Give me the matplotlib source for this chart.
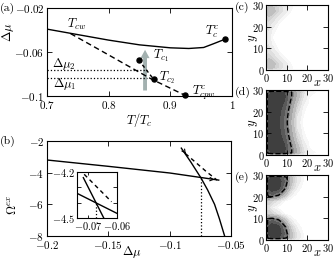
import numpy as np
import matplotlib
matplotlib.use('Agg')
from matplotlib import pyplot as plt

plt.rcParams['font.family'] = 'serif'
plt.rcParams['font.serif'] = ['cmr10']
plt.rcParams['mathtext.fontset'] = 'cm'
plt.rcParams['axes.formatter.use_mathtext'] = True

# ---- panel (a): phase diagram ----
Tcw_T = [0.7, 0.75, 0.8, 0.85, 0.9, 0.93, 0.954, 0.97, 0.989]
Tcw_mu = [-0.0392, -0.0442, -0.0492, -0.0535, -0.0562, -0.0568, -0.0559, -0.0525, -0.0483]
Tcpw_T = [0.738, 0.8, 0.83, 0.87, 0.89, 0.924]
Tcpw_mu = [-0.0432, -0.0627, -0.0722, -0.0848, -0.0902, -0.0994]
Tc1 = (0.8485, -0.0672)
Tc2 = (0.8729, -0.0848)
Tcc = (0.989, -0.0483)
Tcpwc = (0.924, -0.0994)
dmu2 = -0.0760
dmu1 = -0.0833
arrow_T = 0.859
arrow_mu = (-0.095, -0.058)

# ---- panel (b): grand potential ----
shallow_x = [-0.2, -0.15, -0.1, -0.075, -0.06]
shallow_y = [-3.2, -3.6, -4.02, -4.3, -4.47]
steep_x = [-0.0905, -0.083, -0.0745, -0.069, -0.0634, -0.0595, -0.0552, -0.054]
steep_y = [-2.45, -3.3, -4.33, -5.1, -6.0, -6.9, -8.0, -8.4]
dash_x = [-0.0872, -0.0706, -0.0614]
dash_y = [-2.79, -3.9, -4.47]
cross_b = (-0.0745, -4.33)
arrow_marks = [((-0.0885, -2.62), (-0.0855, -2.95)), ((-0.067, -4.41), (-0.0635, -4.44))]

# inset
ins_shallow_x = [-0.0738, -0.06]
ins_shallow_y = [-4.339, -4.469]
ins_steep_x = [-0.0716, -0.0645]
ins_steep_y = [-4.237, -4.50]
ins_dash_x = [-0.0713, -0.0618]
ins_dash_y = [-4.215, -4.394]
cross_ins = (-0.0672, -4.40)

# ---- panels (c)-(e): density maps ----
gx = [0, 1, 3, 6, 9, 12, 15, 18, 21, 30]
gy = [0, 1, 3, 6, 9, 12, 15, 18, 21, 24, 27, 29, 30]
dens_c = [
    [0, 0, 0, 0, 0, 0, 0, 0, 0, 0],
    [0, 0.22, 0.22, 0.15, 0.08, 0.03, 0, 0, 0, 0],
    [0, 0.28, 0.26, 0.15, 0.07, 0.02, 0, 0, 0, 0],
    [0, 0.18, 0.14, 0.07, 0.02, 0, 0, 0, 0, 0],
    [0, 0.13, 0.08, 0.02, 0, 0, 0, 0, 0, 0],
    [0, 0.10, 0.04, 0, 0, 0, 0, 0, 0, 0],
    [0, 0.08, 0.02, 0, 0, 0, 0, 0, 0, 0],
    [0, 0.10, 0.04, 0, 0, 0, 0, 0, 0, 0],
    [0, 0.13, 0.08, 0.02, 0, 0, 0, 0, 0, 0],
    [0, 0.18, 0.14, 0.07, 0.02, 0, 0, 0, 0, 0],
    [0, 0.28, 0.26, 0.15, 0.07, 0.02, 0, 0, 0, 0],
    [0, 0.22, 0.22, 0.15, 0.08, 0.03, 0, 0, 0, 0],
    [0, 0, 0, 0, 0, 0, 0, 0, 0, 0],
]
dens_d = [
    [0, 0, 0, 0, 0, 0, 0, 0, 0, 0],
    [0, 0.60, 0.72, 0.74, 0.70, 0.48, 0.28, 0.12, 0.03, 0],
    [0, 0.70, 0.80, 0.80, 0.72, 0.48, 0.27, 0.10, 0.02, 0],
    [0, 0.70, 0.80, 0.78, 0.68, 0.42, 0.20, 0.06, 0.01, 0],
    [0, 0.70, 0.80, 0.76, 0.62, 0.36, 0.14, 0.03, 0, 0],
    [0, 0.70, 0.78, 0.74, 0.58, 0.32, 0.10, 0.02, 0, 0],
    [0, 0.70, 0.78, 0.72, 0.56, 0.30, 0.08, 0.01, 0, 0],
    [0, 0.70, 0.78, 0.74, 0.58, 0.32, 0.10, 0.02, 0, 0],
    [0, 0.70, 0.80, 0.76, 0.62, 0.36, 0.14, 0.03, 0, 0],
    [0, 0.70, 0.80, 0.78, 0.68, 0.42, 0.20, 0.06, 0.01, 0],
    [0, 0.70, 0.80, 0.80, 0.72, 0.48, 0.27, 0.10, 0.02, 0],
    [0, 0.60, 0.72, 0.74, 0.70, 0.48, 0.28, 0.12, 0.03, 0],
    [0, 0, 0, 0, 0, 0, 0, 0, 0, 0],
]
dens_e = [
    [0, 0, 0, 0, 0, 0, 0, 0, 0, 0],
    [0, 0.60, 0.72, 0.72, 0.55, 0.25, 0.08, 0.02, 0, 0],
    [0, 0.70, 0.80, 0.78, 0.60, 0.25, 0.08, 0.02, 0, 0],
    [0, 0.70, 0.80, 0.75, 0.50, 0.18, 0.05, 0, 0, 0],
    [0, 0.55, 0.60, 0.50, 0.25, 0.06, 0.01, 0, 0, 0],
    [0, 0.20, 0.15, 0.08, 0.02, 0, 0, 0, 0, 0],
    [0, 0.12, 0.05, 0.01, 0, 0, 0, 0, 0, 0],
    [0, 0.20, 0.15, 0.08, 0.02, 0, 0, 0, 0, 0],
    [0, 0.55, 0.60, 0.50, 0.25, 0.06, 0.01, 0, 0, 0],
    [0, 0.70, 0.80, 0.75, 0.50, 0.18, 0.05, 0, 0, 0],
    [0, 0.70, 0.80, 0.78, 0.60, 0.25, 0.08, 0.02, 0, 0],
    [0, 0.60, 0.72, 0.72, 0.55, 0.25, 0.08, 0.02, 0, 0],
    [0, 0, 0, 0, 0, 0, 0, 0, 0, 0],
]
map_ticks = [0, 10, 20, 30]

W, H = 335, 259
fig = plt.figure(figsize=(W/100, H/100), dpi=100)
TFS = 8     # tick labels
LFS = 9     # axis labels / annotations


def px_axes(l, t, r, b):
    return fig.add_axes([l/W, 1-b/H, (r-l)/W, (b-t)/H])


def style(ax, xt, yt, fs=TFS):
    ax.set_xticks(xt)
    ax.set_yticks(yt)
    ax.set_xticklabels([f'${v:g}$' for v in xt], fontsize=fs)
    ax.set_yticklabels([f'${v:g}$' for v in yt], fontsize=fs)
    ax.tick_params(direction='in', top=True, right=True, length=3.5, width=0.6, pad=2)
    for s in ax.spines.values():
        s.set_linewidth(0.8)


#%% (a)
axa = px_axes(47, 8, 232, 96)
axa.plot(Tcw_T, Tcw_mu, 'k-', lw=1.0)
axa.plot(Tcpw_T, Tcpw_mu, 'k--', lw=1.0, dashes=(4, 2.5))
axa.plot([Tc1[0], Tc2[0]], [Tc1[1], Tc2[1]], 'k--', lw=1.0, dashes=(2.5, 2))
axa.hlines([dmu2, dmu1], 0.7, 0.862, colors='k', linestyles=':', lw=0.9)
axa.annotate('', xy=(arrow_T, arrow_mu[1]), xytext=(arrow_T, arrow_mu[0]),
             arrowprops=dict(width=2.8, headwidth=6.5, headlength=6, color='#a3b1b0', lw=0),
             zorder=1)
for p in [Tc1, Tc2, Tcc, Tcpwc]:
    axa.plot(p[0], p[1], 'ko', ms=3.6, clip_on=False, zorder=5)
axa.text(0.7486, -0.0352, r'$T_{cw}$', fontsize=LFS, ha='center', va='center')
axa.text(0.968, -0.0420, r'$T_c^c$', fontsize=LFS, ha='center', va='center')
axa.text(0.884, -0.0630, r'$T_{c_1}$', fontsize=LFS, ha='center', va='center')
axa.text(0.895, -0.0830, r'$T_{c_2}$', fontsize=LFS, ha='center', va='center')
axa.text(0.954, -0.0970, r'$T_{cpw}^c$', fontsize=LFS, ha='center', va='center')
axa.text(0.728, -0.0712, r'$\Delta\mu_2$', fontsize=LFS, ha='center', va='center')
axa.text(0.728, -0.0890, r'$\Delta\mu_1$', fontsize=LFS, ha='center', va='center')
axa.set_xlim(0.7, 1.0)
axa.set_ylim(-0.1, -0.02)
style(axa, [0.7, 0.8, 0.9, 1], [-0.1, -0.06, -0.02])
axa.set_xlabel(r'$T/T_c$', fontsize=LFS, labelpad=0)
axa.set_ylabel(r'$\Delta\mu$', fontsize=LFS)
axa.yaxis.set_label_coords(-0.165, 0.72)

#%% (b)
axb = px_axes(47, 141, 231, 236)
axb.plot(shallow_x, shallow_y, 'k-', lw=1.0)
axb.plot(steep_x, steep_y, 'k-', lw=1.0)
axb.plot(dash_x, dash_y, 'k--', lw=1.0, dashes=(3, 2.5))
for a0, a1 in arrow_marks:
    axb.annotate('', xy=a1, xytext=a0,
                 arrowprops=dict(arrowstyle='->', lw=0.8, mutation_scale=6, color='k'))
axb.vlines(cross_b[0], -8, cross_b[1], colors='k', linestyles=':', lw=0.9)
axb.set_xlim(-0.2, -0.05)
axb.set_ylim(-8, -2)
style(axb, [-0.2, -0.15, -0.1, -0.05], [-8, -6, -4, -2])
axb.set_xlabel(r'$\Delta\mu$', fontsize=LFS)
axb.xaxis.set_label_coords(0.46, -0.085)
axb.set_ylabel(r'$\Omega^{ex}$', fontsize=LFS)
axb.yaxis.set_label_coords(-0.15, 0.33)

axi = px_axes(77, 172, 117, 218)
axi.plot(ins_shallow_x, ins_shallow_y, 'k-', lw=1.0)
axi.plot(ins_steep_x, ins_steep_y, 'k-', lw=1.0)
axi.plot(ins_dash_x, ins_dash_y, 'k--', lw=1.0, dashes=(3, 2.5))
axi.vlines(cross_ins[0], -4.5, cross_ins[1], colors='k', linestyles=':', lw=0.9)
axi.set_xlim(-0.0738, -0.0599)
axi.set_ylim(-4.5, -4.2)
style(axi, [-0.07, -0.06], [-4.5, -4.2], fs=7.5)
axi.set_yticks([-4.4, -4.3], minor=True)
axi.tick_params(which='minor', direction='in', left=True, right=True, length=3, width=0.6)
axi.tick_params(length=2.5, pad=1.5)
axi.set_facecolor('white')

fig.text(0.0, 1-8/H, '(a)', fontsize=8.5, va='center')
fig.text(0.0, 1-141/H, '(b)', fontsize=8.5, va='center')

#%% (c)-(e)
levels = [0.02, 0.05, 0.1, 0.15, 0.2, 0.3, 0.4, 0.5, 0.6, 0.7, 0.8, 1.0]
maps = [(dens_c, 5, 70, '(c)', False), (dens_d, 90, 155, '(d)', True), (dens_e, 175, 240, '(e)', True)]
for dens, top, bot, lab, dashed in maps:
    ax = px_axes(266, top, 328, bot)
    ax.contourf(gx, gy, np.array(dens), levels=levels, cmap='gray_r', vmin=0, vmax=1)
    if dashed:
        ax.contour(gx, gy, np.array(dens), levels=[0.45], colors='k',
                   linestyles='--', linewidths=1.0)
    ax.set_xlim(0, 30)
    ax.set_ylim(0, 30)
    style(ax, map_ticks, map_ticks, fs=7.5)
    ax.tick_params(pad=1.2)
    ax.set_xlabel(r'$x$', fontsize=LFS)
    ax.set_ylabel(r'$y$', fontsize=LFS)
    ax.xaxis.set_label_coords(0.835, -0.1)
    ax.yaxis.set_label_coords(-0.09, 0.5)
    fig.text(235/W, 1-(top+2)/H, lab, fontsize=8.5, va='center')

fig.savefig('out.png', dpi=100)
